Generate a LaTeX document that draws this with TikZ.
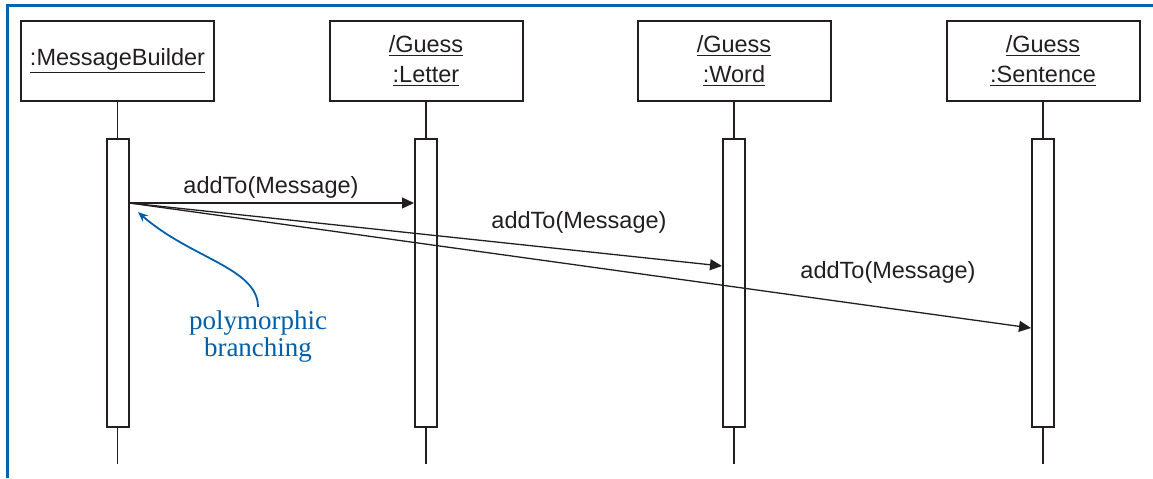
\documentclass[tikz,border=0pt]{standalone}
\usepackage{fontspec}
\setmainfont{Liberation Serif}
\setsansfont{Liberation Sans}
\usetikzlibrary{arrows.meta}
\definecolor{frameblue}{HTML}{0066B3}
\definecolor{noteblue}{HTML}{005FAA}
\definecolor{ink}{HTML}{231F20}
\begin{document}
\begin{tikzpicture}[x=0.5pt,y=-0.5pt,
  objbox/.style={draw=ink, line width=1pt, minimum width=96.5pt, minimum height=40pt,
    align=center, inner sep=0pt, font=\sffamily\fontsize{11.75}{15}\selectfont, text=ink},
  actbox/.style={draw=ink, line width=1pt, fill=white, minimum width=11pt, minimum height=144pt, inner sep=0pt},
  lifeline/.style={draw=ink, line width=0.65pt},
  msg/.style={draw=ink, line width=0.65pt, -{Triangle[length=6pt,width=5.5pt]}},
  msglabel/.style={font=\sffamily\fontsize{11.75}{14}\selectfont, text=ink, inner sep=0pt},
  note/.style={font=\fontsize{13.5}{13.5}\selectfont, text=noteblue, align=center, inner sep=0pt},
  notearrow/.style={draw=noteblue, line width=0.9pt, -{Stealth[length=5pt,width=4pt]}},
  frameline/.style={draw=frameblue, line width=1.5pt}
]
\useasboundingbox (0,0) rectangle (1153,478);
\draw[frameline] (7,478) -- (7,5) -- (1153,5);

% objects
\node[objbox] (mb) at (117.5,61) {\underline{:MessageBuilder}};
\node[objbox] (gl) at (426,61) {\underline{/Guess}\\\underline{:Letter}};
\node[objbox] (gw) at (734,61) {\underline{/Guess}\\\underline{:Word}};
\node[objbox] (gs) at (1043,61) {\underline{/Guess}\\\underline{:Sentence}};

% activations
\node[actbox] (a1) at (117.5,283) {};
\node[actbox] (a2) at (426,283) {};
\node[actbox] (a3) at (734,283) {};
\node[actbox] (a4) at (1043,283) {};

% lifelines
\foreach \o/\a in {mb/a1,gl/a2,gw/a3,gs/a4}{
  \coordinate (\a end) at ([yshift=-18pt]\a.south);
  \draw[lifeline] (\o.south) -- (\a.north);
  \draw[lifeline] (\a.south) -- (\a end);
}

% messages
\coordinate (src) at (a1.east |- 0,203);
\coordinate (t2) at (a2.west |- 0,203);
\coordinate (t3) at (a3.west |- 0,266);
\coordinate (t4) at (a4.west |- 0,328);
\draw[msg] (src) -- (t2);
\draw[msg] (src) -- (t3);
\draw[msg] (src) -- (t4);
\node[msglabel] (l1) at (271,187) {addTo(Message)};
\node[msglabel] (l2) at (579,222) {addTo(Message)};
\node[msglabel] (l3) at (888,272) {addTo(Message)};

% note
\node[note] (pb) at (258,337) {polymorphic\\branching};
\coordinate (pbtip) at (138,212);
\draw[notearrow] ([yshift=2pt]pb.north) .. controls (258,268) and (190,258) .. (pbtip);
\end{tikzpicture}
\end{document}
